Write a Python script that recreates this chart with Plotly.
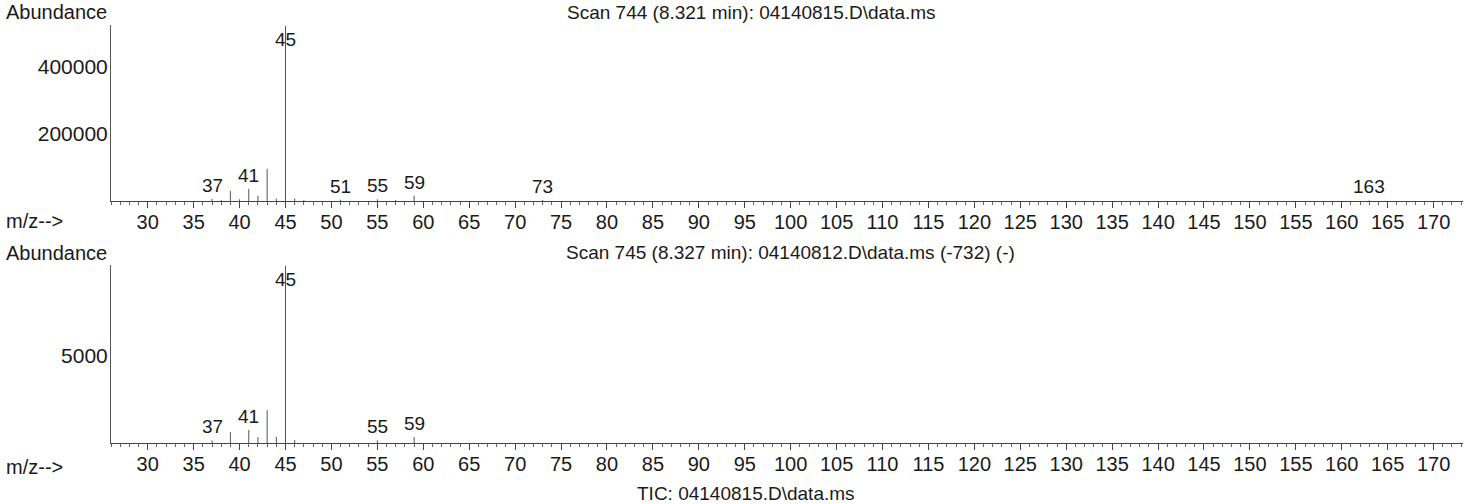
import plotly.graph_objects as go

# Scan 744 (upper spectrum)
mz_top = [37, 38, 39, 40, 41, 42, 43, 44, 45, 46, 47, 51, 55, 57, 59, 73, 163]
ab_top = [6000, 3000, 30000, 5000, 36000, 16000, 96000, 7000, 522000, 8000, 3000,
          4000, 5000, 3000, 16000, 3000, 2000]
labels_top = [37, 41, 45, 51, 55, 59, 73, 163]

# Scan 745 (lower spectrum, background subtracted)
mz_bot = [37, 39, 41, 42, 43, 44, 45, 46, 55, 59]
ab_bot = [150, 625, 740, 340, 1875, 350, 10100, 170, 150, 340]
labels_bot = [37, 41, 45, 55, 59]

ytick_top = [200000, 400000]
ytick_bot = [5000]

title_top = "Scan 744 (8.321 min): 04140815.D\\data.ms"
title_bot = "Scan 745 (8.327 min): 04140812.D\\data.ms (-732) (-)"
footer = "TIC: 04140815.D\\data.ms"

FONT = "Liberation Sans, Arial, sans-serif"
TXT = "#1a1a1a"
W, H = 1473, 504


def stems(mz, ab):
    xs, ys = [], []
    for m, a in zip(mz, ab):
        xs += [m, m, None]
        ys += [0, a, None]
    return xs, ys


fig = go.Figure()
x, y = stems(mz_top, ab_top)
fig.add_trace(go.Scatter(x=x, y=y, mode="lines", line=dict(color="#555", width=1),
                         xaxis="x", yaxis="y", hoverinfo="skip"))
x, y = stems(mz_bot, ab_bot)
fig.add_trace(go.Scatter(x=x, y=y, mode="lines", line=dict(color="#555", width=1),
                         xaxis="x2", yaxis="y2", hoverinfo="skip"))

xdom = [111 / W, 1463 / W]
xa = dict(range=[26, 173.2], domain=xdom, showgrid=False, zeroline=False,
          showline=True, linecolor="#444", linewidth=1,
          ticks="outside", tick0=0, dtick=5, ticklen=6, tickcolor="#444",
          minor=dict(ticks="outside", tick0=0, dtick=1, ticklen=3, tickcolor="#666"),
          tickfont=dict(family=FONT, size=20, color=TXT), ticklabelstandoff=-3)
ya = dict(showgrid=False, zeroline=False, showline=True, linecolor="#555",
          linewidth=1, ticks="", tickfont=dict(family=FONT, size=21, color=TXT),
          ticklabelstandoff=-2)

fig.update_layout(
    width=W, height=H, showlegend=False,
    paper_bgcolor="white", plot_bgcolor="white",
    margin=dict(l=0, r=0, t=0, b=0),
    xaxis=dict(xa, anchor="y"),
    yaxis=dict(ya, anchor="x", domain=[1 - 201 / H, 1 - 25 / H], range=[0, 525000],
               tickvals=ytick_top, ticktext=[str(v) for v in ytick_top]),
    xaxis2=dict(xa, anchor="y2"),
    yaxis2=dict(ya, anchor="x2", domain=[1 - 443 / H, 1 - 265 / H], range=[0, 10150],
                tickvals=ytick_bot, ticktext=[str(v) for v in ytick_bot]),
)

# peak labels
for xr, yr, mz, ab, labs in [("x", "y", mz_top, ab_top, labels_top),
                             ("x2", "y2", mz_bot, ab_bot, labels_bot)]:
    top = max(ab)
    for m in labs:
        a = ab[mz.index(m)]
        big = a == top
        fig.add_annotation(x=m, y=a, xref=xr, yref=yr, text=str(m), showarrow=False,
                           xanchor="center", yanchor="top" if big else "bottom",
                           yshift=-1 if big else 1,
                           font=dict(family=FONT, size=19, color=TXT))


def txt(s, px, py, anchor="left", size=20):
    fig.add_annotation(x=px / W, y=1 - py / H, xref="paper", yref="paper", text=s,
                       showarrow=False, xanchor=anchor, yanchor="middle",
                       font=dict(family=FONT, size=size, color=TXT))


txt("Abundance", 4, 12)
txt(title_top, 751, 12, "center", 19)
txt("m/z-->", 4, 221)
txt("Abundance", 4, 253)
txt(title_bot, 790, 252, "center", 19)
txt("m/z-->", 4, 467)
txt(footer, 746, 493, "center", 19)

fig.write_html("out.html", config={"displayModeBar": False},
               post_script="document.body.style.margin='0';")
